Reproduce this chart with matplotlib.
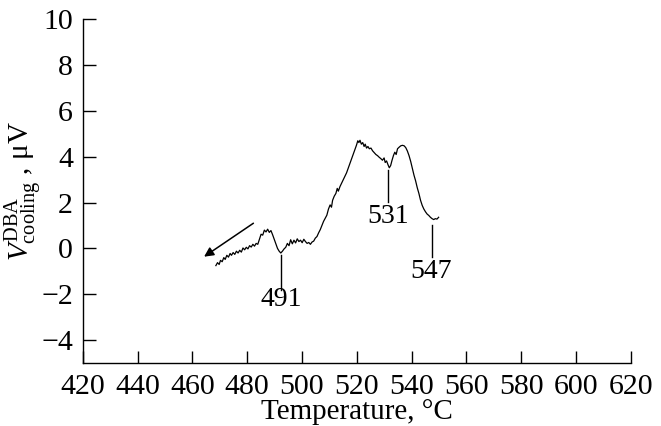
import matplotlib
matplotlib.use("Agg")
import matplotlib.pyplot as plt

plt.rcParams['font.family'] = ['Liberation Serif', 'DejaVu Serif']
plt.rcParams['mathtext.fontset'] = 'custom'
plt.rcParams['mathtext.rm'] = 'Liberation Serif'
plt.rcParams['mathtext.it'] = 'Liberation Serif:italic'

# ---- data ----
temperature = [468.6, 469.2, 469.8, 470.3, 470.9, 471.5, 472.0, 472.6, 473.2, 473.8,
               474.3, 474.9, 475.5, 476.1, 476.7, 477.3, 477.9, 478.5, 479.1, 479.7,
               480.3, 480.9, 481.5, 482.1, 482.7, 483.3, 483.9, 484.5, 485.1, 485.7,
               486.3, 486.9, 487.5, 488.1, 488.7, 489.3, 489.9, 490.5, 491.1, 491.7,
               492.3, 492.9, 493.5, 494.1, 494.7, 495.3, 495.9, 496.5, 497.1, 497.7,
               498.3, 498.9, 499.5, 500.1, 500.7, 501.3, 501.9, 502.5, 503.1, 503.7,
               504.3, 504.9, 505.5, 506.1, 506.7, 507.3, 507.9, 508.5, 509.1, 509.7,
               510.3, 510.8, 511.2, 511.8, 512.4, 512.9, 513.3, 513.9, 514.5, 515.1,
               515.7, 516.3, 516.9, 517.5, 518.1, 518.7, 519.3, 519.9, 520.4, 520.8,
               521.2, 521.7, 522.2, 522.7, 523.1, 523.6, 524.1, 524.6, 525.2, 525.8,
               526.4, 527.0, 527.6, 528.2, 528.8, 529.4, 530.0, 530.4, 530.9, 531.4,
               531.9, 532.4, 532.9, 533.4, 533.9, 534.4, 534.9, 535.5, 536.1, 536.7,
               537.3, 537.9, 538.5, 539.1, 539.7, 540.3, 540.9, 541.5, 542.1, 542.7,
               543.3, 543.9, 544.5, 545.1, 545.7, 546.3, 546.9, 547.5, 548.1, 548.7,
               549.3, 549.9]
voltage = [-0.75, -0.62, -0.70, -0.52, -0.58, -0.40, -0.48, -0.30, -0.38, -0.22,
           -0.30, -0.18, -0.26, -0.12, -0.20, -0.08, -0.16, 0.02, -0.06, 0.05,
           -0.02, 0.12, 0.06, 0.18, 0.10, 0.22, 0.18, 0.40, 0.62, 0.58,
           0.80, 0.72, 0.84, 0.70, 0.78, 0.60, 0.40, 0.20, 0.00, -0.12,
           -0.20, -0.12, -0.02, 0.05, 0.22, 0.12, 0.38, 0.20, 0.36, 0.24,
           0.42, 0.30, 0.36, 0.25, 0.40, 0.30, 0.22, 0.26, 0.18, 0.28,
           0.32, 0.45, 0.52, 0.68, 0.82, 1.00, 1.18, 1.32, 1.45, 1.72,
           1.90, 1.80, 2.10, 2.28, 2.40, 2.62, 2.50, 2.70, 2.85, 3.00,
           3.14, 3.30, 3.50, 3.70, 3.90, 4.10, 4.30, 4.50, 4.70, 4.62,
           4.72, 4.55, 4.62, 4.45, 4.55, 4.38, 4.45, 4.35, 4.38, 4.26,
           4.18, 4.10, 4.05, 3.98, 3.92, 3.85, 3.95, 3.75, 3.82, 3.66,
           3.52, 3.62, 3.85, 4.05, 4.20, 4.10, 4.35, 4.42, 4.48, 4.50,
           4.48, 4.40, 4.25, 4.05, 3.80, 3.50, 3.20, 2.95, 2.65, 2.40,
           2.10, 1.88, 1.72, 1.60, 1.50, 1.44, 1.36, 1.30, 1.26, 1.30,
           1.28, 1.36]

peak_labels = ["491", "531", "547"]
peak_T = [492.3, 531.5, 547.3]
peak_line_top = [-0.28, 3.42, 1.03]
peak_line_bottom = [-1.8, 2.04, -0.36]
peak_text_V = [-2.25, 1.38, -1.0]

arrow_start = (482.3, 1.1)
arrow_end = (464.3, -0.36)

x_ticks = list(range(420, 621, 20))
y_ticks = list(range(-4, 11, 2))

# ---- figure ----
fig = plt.figure(figsize=(6.61, 4.26), dpi=100)
ax = fig.add_axes([82.7 / 661, (426 - 363) / 426, (630.7 - 82.7) / 661, (363 - 19.3) / 426])

ax.plot(temperature, voltage, color='black', lw=0.9)

for lab, t, vt, vb, tv in zip(peak_labels, peak_T, peak_line_top, peak_line_bottom, peak_text_V):
    ax.plot([t, t], [vt, vb], color='black', lw=1.0)
    ax.text(t, tv, lab, ha='center', va='center', fontsize=20)

ax.annotate('', xy=arrow_end, xytext=arrow_start,
            arrowprops=dict(arrowstyle='-|>', color='black', lw=1.1,
                            mutation_scale=14, shrinkA=0, shrinkB=0))

ax.set_xlim(420, 620)
ax.set_ylim(-5, 10)
ax.set_xticks(x_ticks)
ax.set_yticks(y_ticks)
ax.set_yticklabels([str(v).replace('-', '\u2212') for v in y_ticks])
ax.tick_params(direction='in', length=9, width=1.0, labelsize=21.5)
ax.tick_params(axis='x', pad=8)
ax.tick_params(axis='y', pad=7)
for s in ['top', 'right']:
    ax.spines[s].set_visible(False)
for s in ['left', 'bottom']:
    ax.spines[s].set_linewidth(1.0)

ax.set_xlabel('Temperature, °C', fontsize=21, labelpad=-1)
ax.set_ylabel(r'$V^{\rm DBA}_{\rm cooling}$ , μV', fontsize=21)
ax.yaxis.set_label_coords(-0.068, 0.5)

fig.savefig('out.png', dpi=100)
